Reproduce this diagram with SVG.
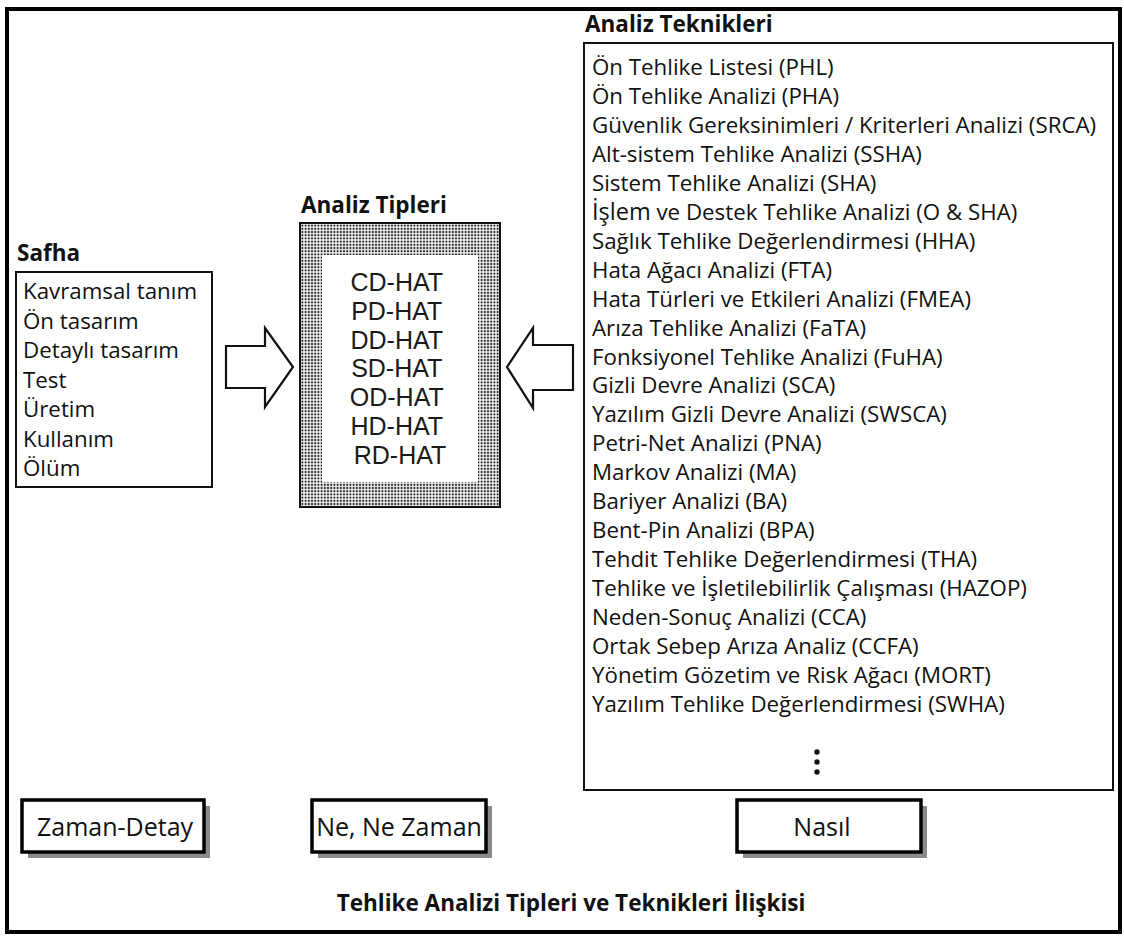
<svg xmlns="http://www.w3.org/2000/svg" width="1124" height="936" viewBox="0 0 1124 936">
  <style>
    .txt { font-family: "Open Sans", Lato, sans-serif; font-size: 22.3px; fill: #111; }
    .cap { font-family: "Open Sans", Lato, sans-serif; font-size: 25px; fill: #111; text-anchor: middle; }
    .bold { font-family: "Open Sans", Lato, sans-serif; font-weight: bold; font-size: 22.5px; fill: #111; }
    .hat { font-family: "Liberation Sans", Arial, sans-serif; font-size: 25px; fill: #1a1a1a; text-anchor: middle; }
    .box { fill: #fff; stroke: #111; stroke-width: 2; }
    .tag { fill: #fff; stroke: #000; stroke-width: 3.5; }
    .shadow { fill: #8a8a8a; }
    .arrow { fill: #fff; stroke: #111; stroke-width: 2.2; stroke-linejoin: miter; }
  </style>
  <defs>
    <pattern id="stipple" width="3.2" height="3.2" patternUnits="userSpaceOnUse">
      <rect width="3.2" height="3.2" fill="#fff"/>
      <rect x="0.6" y="0.6" width="2" height="2" fill="#222"/>
    </pattern>
  </defs>

  <!-- page frame -->
  <rect x="7" y="9" width="1113" height="923" fill="#fff" stroke="#000" stroke-width="4"/>

  <!-- phases -->
  <g id="safha">
    <text class="bold" x="17" y="261">Safha</text>
    <rect class="box" x="16" y="272" width="196" height="215"/>
    <text class="txt">
      <tspan x="23" y="299">Kavramsal tanım</tspan>
      <tspan x="23" y="328.5">Ön tasarım</tspan>
      <tspan x="23" y="358">Detaylı tasarım</tspan>
      <tspan x="23" y="387.5">Test</tspan>
      <tspan x="23" y="417">Üretim</tspan>
      <tspan x="23" y="446.5">Kullanım</tspan>
      <tspan x="23" y="476">Ölüm</tspan>
    </text>
  </g>

  <!-- analysis types -->
  <g id="analiz-tipleri">
    <text class="bold" x="301" y="213">Analiz Tipleri</text>
    <rect x="300" y="223" width="200" height="284" fill="url(#stipple)" stroke="#111" stroke-width="2"/>
    <rect x="322" y="255" width="156" height="227" fill="#fff"/>
    <text class="hat">
      <tspan x="400" y="291">CD-HAT</tspan>
      <tspan x="400" y="319.8">PD-HAT</tspan>
      <tspan x="400" y="348.6">DD-HAT</tspan>
      <tspan x="400" y="377.4">SD-HAT</tspan>
      <tspan x="400" y="406.2">OD-HAT</tspan>
      <tspan x="400" y="435">HD-HAT</tspan>
      <tspan x="400" y="463.8">RD-HAT</tspan>
    </text>
  </g>

  <!-- analysis techniques -->
  <g id="analiz-teknikleri">
    <text class="bold" x="585" y="32">Analiz Teknikleri</text>
    <rect class="box" x="584" y="43" width="529" height="747"/>
    <text class="txt">
      <tspan x="592" y="75">Ön Tehlike Listesi (PHL)</tspan>
      <tspan x="592" dy="28.95">Ön Tehlike Analizi (PHA)</tspan>
      <tspan x="592" dy="28.95">Güvenlik Gereksinimleri / Kriterleri Analizi (SRCA)</tspan>
      <tspan x="592" dy="28.95">Alt-sistem Tehlike Analizi (SSHA)</tspan>
      <tspan x="592" dy="28.95">Sistem Tehlike Analizi (SHA)</tspan>
      <tspan x="592" dy="28.95"><tspan font-size="23.5">İşlem</tspan> ve Destek Tehlike Analizi (O &amp; SHA)</tspan>
      <tspan x="592" dy="28.95">Sağlık Tehlike Değerlendirmesi (HHA)</tspan>
      <tspan x="592" dy="28.95">Hata Ağacı Analizi (FTA)</tspan>
      <tspan x="592" dy="28.95">Hata Türleri ve Etkileri Analizi (FMEA)</tspan>
      <tspan x="592" dy="28.95">Arıza Tehlike Analizi (FaTA)</tspan>
      <tspan x="592" dy="28.95">Fonksiyonel Tehlike Analizi (FuHA)</tspan>
      <tspan x="592" dy="28.95">Gizli Devre Analizi (SCA)</tspan>
      <tspan x="592" dy="28.95">Yazılım Gizli Devre Analizi (SWSCA)</tspan>
      <tspan x="592" dy="28.95">Petri-Net Analizi (PNA)</tspan>
      <tspan x="592" dy="28.95">Markov Analizi (MA)</tspan>
      <tspan x="592" dy="28.95">Bariyer Analizi (BA)</tspan>
      <tspan x="592" dy="28.95">Bent-Pin Analizi (BPA)</tspan>
      <tspan x="592" dy="28.95">Tehdit Tehlike Değerlendirmesi (THA)</tspan>
      <tspan x="592" dy="28.95">Tehlike ve İşletilebilirlik Çalışması (HAZOP)</tspan>
      <tspan x="592" dy="28.95">Neden-Sonuç Analizi (CCA)</tspan>
      <tspan x="592" dy="28.95">Ortak Sebep Arıza Analiz (CCFA)</tspan>
      <tspan x="592" dy="28.95">Yönetim Gözetim ve Risk Ağacı (MORT)</tspan>
      <tspan x="592" dy="28.95">Yazılım Tehlike Değerlendirmesi (SWHA)</tspan>
    </text>
    <g fill="#111">
      <circle cx="817" cy="752" r="2.7"/>
      <circle cx="817" cy="762" r="2.7"/>
      <circle cx="817" cy="772" r="2.7"/>
    </g>
  </g>

  <!-- block arrows feeding the analysis types -->
  <g id="connectors">
    <polygon class="arrow" points="226,346 265,346 265,328 293,367 265,407 265,388 226,388"/>
    <polygon class="arrow" points="573,345 533,345 533,328 507,367 533,408 533,390 573,390"/>
  </g>

  <!-- captions -->
  <g id="zaman-detay">
    <rect class="shadow" x="28" y="806" width="182" height="52"/>
    <rect class="tag" x="22" y="800" width="182" height="52"/>
    <text class="cap" x="115" y="836">Zaman-Detay</text>
  </g>
  <g id="ne-ne-zaman">
    <rect class="shadow" x="318" y="806" width="174" height="52"/>
    <rect class="tag" x="312" y="800" width="174" height="52"/>
    <text class="cap" x="399" y="836" font-size="24">Ne, Ne Zaman</text>
  </g>
  <g id="nasil">
    <rect class="shadow" x="743" y="806" width="184" height="52"/>
    <rect class="tag" x="737" y="800" width="184" height="52"/>
    <text class="cap" x="822" y="836">Nasıl</text>
  </g>

  <text class="bold" x="571" y="911" text-anchor="middle" font-size="24.5">Tehlike Analizi Tipleri ve Teknikleri İlişkisi</text>
</svg>
